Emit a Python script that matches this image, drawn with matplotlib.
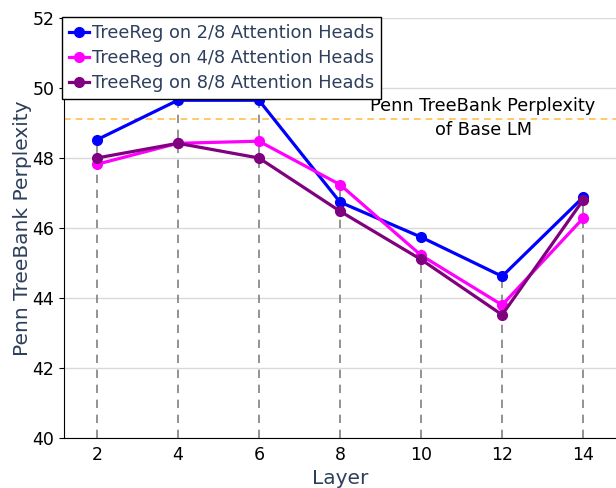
import matplotlib
matplotlib.use("Agg")
import matplotlib.pyplot as plt
import numpy as np

layers = [2, 4, 6, 8, 10, 12, 14]
heads_2of8 = [48.52, 49.65, 49.65, 46.74, 45.74, 44.62, 46.88]
heads_4of8 = [47.82, 48.42, 48.48, 47.24, 45.22, 43.80, 46.28]
heads_8of8 = [48.00, 48.42, 48.00, 46.48, 45.10, 43.52, 46.80]
base_lm = 49.12
labels = ["TreeReg on 2/8 Attention Heads", "TreeReg on 4/8 Attention Heads", "TreeReg on 8/8 Attention Heads"]
colors = ["#0000ff", "#ff00ff", "#800080"]

fig = plt.figure(figsize=(6.16, 4.88), dpi=100)
ax = fig.add_axes([64/616, 50/488, 552/616, 420/488])

label_color = "#2e3f5c"
for series, lab, c in zip([heads_2of8, heads_4of8, heads_8of8], labels, colors):
    ax.plot(layers, series, marker="o", color=c, lw=2.3, ms=7, label=lab, zorder=3)

tops = np.max([heads_2of8, heads_4of8, heads_8of8], axis=0)
ax.vlines(layers, 40, tops, colors="#808080", linestyles=(0, (5, 4)), lw=1.2, zorder=1)
ax.axhline(base_lm, color="orange", ls=(0, (4, 3)), lw=1.2, alpha=0.7, zorder=1)
ax.text(11.53, base_lm + 0.03, "Penn TreeBank Perplexity\nof Base LM", ha="center", va="center",
        fontsize=12.8, linespacing=1.45)

ax.set_xlim(1.19, 14.81)
ax.set_ylim(40, 52)
ax.set_xticks(layers)
ax.set_yticks([40, 42, 44, 46, 48, 50, 52])
ax.yaxis.grid(True, color="#d9d9d9", lw=1)
ax.set_axisbelow(True)
ax.spines["top"].set_visible(False)
ax.spines["right"].set_visible(False)
ax.tick_params(axis="both", labelsize=12.5)
ax.tick_params(axis="x", length=0, pad=6)
ax.set_xlabel("Layer", fontsize=14.5, color=label_color, labelpad=3)
ax.set_ylabel("Penn TreeBank Perplexity", fontsize=14.5, color=label_color, labelpad=0)

leg = ax.legend(loc="upper left", bbox_to_anchor=(-0.003, 1.003), fontsize=12.8, frameon=True,
                fancybox=False, edgecolor="black", framealpha=1, handlelength=1.1,
                handletextpad=0.15, borderpad=0.4, borderaxespad=0, labelspacing=0.4)
leg._legend_box.sep = 4
for t in leg.get_texts():
    t.set_color(label_color)
leg.get_frame().set_linewidth(1.0)

fig.savefig("out.png", dpi=100)
